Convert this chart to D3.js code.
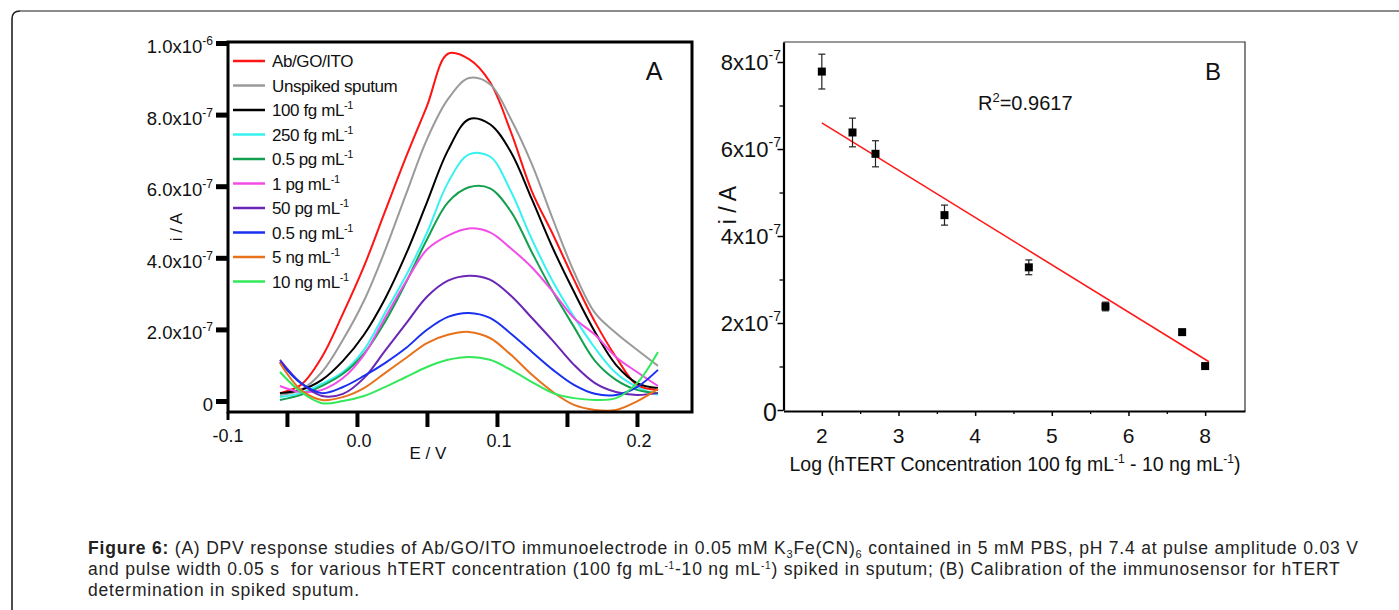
<!DOCTYPE html>
<html>
<head>
<meta charset="utf-8">
<script src="https://cdn.jsdelivr.net/npm/d3@7"></script>
<style>
  body { margin: 0; background: #fff; }
  svg { display: block; font-family: "Liberation Sans", Arial, sans-serif; }
</style>
</head>
<body>
<svg id="fig" width="1399" height="610"></svg>
<script>
// ---- panel A : DPV curves, current in units of 1e-7 A vs potential E (V)
var potential = [-0.055, -0.04, -0.025, -0.01, 0.005, 0.02, 0.035, 0.05, 0.065, 0.08,
                 0.095, 0.11, 0.125, 0.14, 0.155, 0.17, 0.185, 0.2, 0.215];
var abGoIto   = [0.22, 0.45, 1.23, 2.44, 3.76, 5.29, 6.81, 8.24, 9.70, 9.55, 8.91, 7.51, 5.85, 4.65, 3.39, 2.21, 1.23, 0.45, 0.31];
var unspiked  = [0.17, 0.31, 0.81, 1.71, 2.80, 4.20, 5.77, 7.31, 8.43, 9.02, 8.85, 7.87, 6.61, 5.07, 3.61, 2.46, 1.90, 1.43, 0.98];
var fg100     = [0.22, 0.31, 0.59, 1.12, 1.85, 2.85, 4.10, 5.55, 7.00, 7.87, 7.73, 6.95, 5.63, 4.26, 3.05, 1.93, 1.01, 0.50, 0.36];
var fg250     = [0.11, 0.22, 0.48, 0.81, 1.43, 2.46, 3.50, 4.70, 6.10, 6.89, 6.83, 5.85, 4.51, 3.33, 2.35, 1.48, 0.78, 0.39, 0.17];
var pg05      = [0.03, 0.17, 0.42, 0.76, 1.32, 2.21, 3.31, 4.51, 5.55, 5.97, 5.94, 5.29, 4.15, 3.05, 2.07, 1.12, 0.59, 0.31, 0.22];
var pg1       = [0.42, 0.25, 0.31, 0.64, 1.29, 2.32, 3.33, 4.23, 4.62, 4.82, 4.71, 4.26, 3.73, 3.05, 2.32, 1.85, 1.23, 0.81, 0.42];
var pg50      = [1.15, 0.50, 0.14, 0.20, 0.64, 1.40, 2.16, 2.91, 3.36, 3.50, 3.39, 2.94, 2.32, 1.68, 1.01, 0.50, 0.25, 0.17, 0.22];
var ng05      = [1.09, 0.50, 0.22, 0.39, 0.70, 1.06, 1.48, 1.99, 2.35, 2.46, 2.32, 1.88, 1.37, 0.87, 0.45, 0.20, 0.17, 0.39, 0.87];
var ng5       = [1.06, 0.31, 0.03, 0.11, 0.36, 0.78, 1.20, 1.62, 1.85, 1.93, 1.76, 1.29, 0.73, 0.25, -0.11, -0.25, -0.25, -0.01, 0.34];
var ng10      = [0.81, 0.25, -0.06, 0.00, 0.14, 0.39, 0.67, 0.95, 1.15, 1.23, 1.15, 0.87, 0.53, 0.22, 0.08, 0.03, 0.08, 0.50, 1.37];

var seriesA   = [abGoIto, unspiked, fg100, fg250, pg05, pg1, pg50, ng05, ng5, ng10];
var legendA   = ["Ab/GO/ITO", "Unspiked sputum", "100 fg mL", "250 fg mL", "0.5 pg mL", "1 pg mL",
                 "50 pg mL", "0.5 ng mL", "5 ng mL", "10 ng mL"];
var legendSup = ["", "", "-1", "-1", "-1", "-1", "-1", "-1", "-1", "-1"];
var colorsA   = ["#ff1414", "#9a9a9a", "#000000", "#38f2f2", "#12a04e", "#f24ce6",
                 "#6a26b4", "#1a30f0", "#e8721c", "#33e85a"];

var yTicksA    = [0, 2, 4, 6, 8, 10];
var yTickMantA = ["0", "2.0x10", "4.0x10", "6.0x10", "8.0x10", "1.0x10"];
var yTickExpA  = ["", "-7", "-7", "-7", "-7", "-6"];
var xTicksA    = [-0.05, 0, 0.05, 0.1, 0.15, 0.2];
var xLabelValA = [0, 0.1, 0.2];
var xLabelA    = ["0.0", "0.1", "0.2"];

// ---- panel B : calibration, current in units of 1e-7 A vs log concentration
var logConc   = [2.0, 2.4, 2.7, 3.6, 4.7, 5.7, 6.7, 7.0];
var currentB  = [7.78, 6.38, 5.89, 4.48, 3.28, 2.38, 1.79, 1.01];
var errorB    = [0.40, 0.33, 0.30, 0.23, 0.17, 0.10, 0.00, 0.03];
var fitX      = [2.0, 7.05];
var fitY      = [6.60, 1.11];
var yTicksB   = [0, 2, 4, 6, 8];
var yMinorB   = [1, 3, 5, 7];
var yTickMantB = ["0", "2x10", "4x10", "6x10", "8x10"];
var xTicksB   = [2, 3, 4, 5, 6, 7];
var xMinorB   = [2.5, 3.5, 4.5, 5.5, 6.5];
var xTickLabelB = ["2", "3", "4", "5", "6", "8"];

var svg = d3.select("#fig");

// outer rounded box of the figure
svg.append("path").attr("d", "M12,610 V19 Q12,11 20,11")
  .attr("fill", "none").attr("stroke", "#222").attr("stroke-width", 1.6);
svg.append("path").attr("d", "M20,11 H1399")
  .attr("fill", "none").attr("stroke", "#8c8c8c").attr("stroke-width", 2);

// ================= panel A =================
var xA = d3.scaleLinear().domain([-0.0921, 0.2393]).range([228, 692]);
var yA = d3.scaleLinear().domain([0, 10]).range([401, 43]);

var gA = svg.append("g");

var line = d3.line()
  .x(function(d, i) { return xA(potential[i]); })
  .y(function(d) { return yA(d); })
  .curve(d3.curveCatmullRom.alpha(0.5));

seriesA.forEach(function(s, i) {
  gA.append("path")
    .attr("d", line(s))
    .attr("fill", "none")
    .attr("stroke", colorsA[i])
    .attr("stroke-width", 2);
});

// frame
gA.append("rect")
  .attr("x", 228).attr("y", 42).attr("width", 464).attr("height", 370)
  .attr("fill", "none").attr("stroke", "#000").attr("stroke-width", 3);

var yAxisA = gA.append("g").attr("transform", "translate(228,0)")
  .call(d3.axisLeft(yA).tickValues(yTicksA).tickSize(12).tickFormat(""));
yAxisA.select(".domain").remove();
yAxisA.selectAll("line").attr("stroke-width", 5);

var xAxisA = gA.append("g").attr("transform", "translate(0,413)")
  .call(d3.axisBottom(xA).tickValues(xTicksA).tickSize(14).tickFormat(""));
xAxisA.select(".domain").remove();
xAxisA.selectAll("line").attr("stroke-width", 4);
gA.append("line").attr("x1", 228).attr("x2", 228).attr("y1", 412).attr("y2", 420)
  .attr("stroke", "#000").attr("stroke-width", 3);

yTicksA.forEach(function(v, i) {
  var t = gA.append("text")
    .attr("x", 213).attr("y", yA(v) + 10)
    .attr("text-anchor", "end").attr("font-size", 18.5).attr("fill", "#111");
  t.append("tspan").text(yTickMantA[i]);
  if (yTickExpA[i]) t.append("tspan").attr("dy", -8).attr("font-size", 12).text(yTickExpA[i]);
});

gA.append("text").attr("x", xA(xA.domain()[0])).attr("y", 442)
  .attr("text-anchor", "middle").attr("font-size", 18).attr("fill", "#111").text("-0.1");
xLabelValA.forEach(function(v, i) {
  gA.append("text").attr("x", xA(v) + 2).attr("y", 447)
    .attr("text-anchor", "middle").attr("font-size", 18).attr("fill", "#111").text(xLabelA[i]);
});

gA.append("text").attr("x", 428).attr("y", 459).attr("text-anchor", "middle")
  .attr("font-size", 17).attr("fill", "#111").text("E / V");
gA.append("text").attr("transform", "translate(182,227) rotate(-90)")
  .attr("text-anchor", "middle").attr("font-size", 17).attr("fill", "#111").text("i / A");
gA.append("text").attr("x", 654).attr("y", 80).attr("text-anchor", "middle")
  .attr("font-size", 25).attr("fill", "#111").text("A");

// legend
legendA.forEach(function(name, i) {
  var yy = 61 + i * 24.5;
  gA.append("line").attr("x1", 233).attr("x2", 265).attr("y1", yy).attr("y2", yy)
    .attr("stroke", colorsA[i]).attr("stroke-width", 2.5);
  var t = gA.append("text").attr("x", 272).attr("y", yy + 6)
    .attr("font-size", 17).attr("letter-spacing", -0.4).attr("fill", "#111");
  t.append("tspan").text(name);
  if (legendSup[i]) t.append("tspan").attr("dy", -7).attr("font-size", 11).text(legendSup[i]);
});

// ================= panel B =================
var xB = d3.scaleLinear().domain([1.5, 7.52]).range([783.5, 1245]);
var yB = d3.scaleLinear().domain([0, 8.46]).range([410, 42]);
var gB = svg.append("g");

// thin top/right frame
gB.append("path").attr("d", "M783.5,42 H1245 V411")
  .attr("fill", "none").attr("stroke", "#333").attr("stroke-width", 1.2);

var yAxisB = gB.append("g").attr("transform", "translate(783.5,0)")
  .call(d3.axisLeft(yB).tickValues(yTicksB).tickSize(6).tickFormat("").tickSizeOuter(0));
yAxisB.selectAll("line").attr("stroke-width", 1.5);
yAxisB.select(".domain").attr("stroke-width", 2.2);
gB.append("g").attr("transform", "translate(783.5,0)")
  .call(d3.axisLeft(yB).tickValues(yMinorB).tickSize(4).tickFormat(""))
  .call(function(g) { g.select(".domain").remove(); })
  .selectAll("line").attr("stroke-width", 1.3);

var xAxisB = gB.append("g").attr("transform", "translate(0,411)")
  .call(d3.axisBottom(xB).tickValues(xTicksB).tickSize(5).tickFormat("").tickSizeOuter(0));
xAxisB.selectAll("line").attr("stroke-width", 1.5);
xAxisB.select(".domain").attr("stroke-width", 2.2);
gB.append("g").attr("transform", "translate(0,411)")
  .call(d3.axisBottom(xB).tickValues(xMinorB).tickSize(3).tickFormat(""))
  .call(function(g) { g.select(".domain").remove(); })
  .selectAll("line").attr("stroke-width", 1.3);

yTicksB.forEach(function(v, i) {
  var t = gB.append("text").attr("text-anchor", "end").attr("fill", "#111");
  if (v === 0) {
    t.attr("x", 777).attr("y", yB(v) + 11).attr("font-size", 25).text(yTickMantB[i]);
  } else {
    t.attr("x", 781).attr("y", yB(v) + 8).attr("font-size", 22);
    t.append("tspan").text(yTickMantB[i]);
    t.append("tspan").attr("dy", -10).attr("font-size", 14).text("-7");
  }
});
xTicksB.forEach(function(v, i) {
  gB.append("text").attr("x", xB(v)).attr("y", 443).attr("text-anchor", "middle")
    .attr("font-size", 21).attr("fill", "#111").text(xTickLabelB[i]);
});

var xt = gB.append("text").attr("x", 1015).attr("y", 471).attr("text-anchor", "middle")
  .attr("font-size", 19.5).attr("fill", "#111");
xt.append("tspan").text("Log (hTERT Concentration 100 fg mL");
xt.append("tspan").attr("dy", -8).attr("font-size", 12).text("-1");
xt.append("tspan").attr("dy", 8).text(" - 10 ng mL");
xt.append("tspan").attr("dy", -8).attr("font-size", 12).text("-1");
xt.append("tspan").attr("dy", 8).text(")");

gB.append("text").attr("transform", "translate(736,205) rotate(-90)")
  .attr("text-anchor", "middle").attr("font-size", 23).attr("fill", "#111").text("i / A");
gB.append("text").attr("x", 1213).attr("y", 80).attr("text-anchor", "middle")
  .attr("font-size", 24).attr("fill", "#111").text("B");

var r2 = gB.append("text").attr("x", 978).attr("y", 110).attr("font-size", 20).attr("fill", "#111");
r2.append("tspan").text("R");
r2.append("tspan").attr("dy", -8).attr("font-size", 13).text("2");
r2.append("tspan").attr("dy", 8).text("=0.9617");

// regression line
gB.append("path")
  .attr("d", d3.line().x(function(d) { return xB(d[0]); }).y(function(d) { return yB(d[1]); })(d3.zip(fitX, fitY)))
  .attr("stroke", "#ff1a1a").attr("stroke-width", 1.6).attr("fill", "none");

// error bars and points
var pts = d3.zip(logConc, currentB, errorB);
pts.forEach(function(p) {
  if (p[2] <= 0) return;
  var cx = xB(p[0]);
  gB.append("line").attr("x1", cx).attr("x2", cx).attr("y1", yB(p[1] + p[2])).attr("y2", yB(p[1] - p[2]))
    .attr("stroke", "#222").attr("stroke-width", 1.2);
  [p[1] + p[2], p[1] - p[2]].forEach(function(v) {
    gB.append("line").attr("x1", cx - 3.5).attr("x2", cx + 3.5).attr("y1", yB(v)).attr("y2", yB(v))
      .attr("stroke", "#222").attr("stroke-width", 1.2);
  });
});
gB.selectAll("rect.pt").data(pts).enter().append("rect").attr("class", "pt")
  .attr("x", function(d) { return xB(d[0]) - 4; })
  .attr("y", function(d) { return yB(d[1]) - 4; })
  .attr("width", 8).attr("height", 8).attr("fill", "#000");

// ================= caption =================
var cap = svg.append("g").attr("font-size", 17.5).attr("letter-spacing", 0.8).attr("fill", "#222");
var l1 = cap.append("text").attr("x", 88).attr("y", 554);
l1.append("tspan").attr("font-weight", "bold").text("Figure 6:");
l1.append("tspan").text(" (A) DPV response studies of Ab/GO/ITO immunoelectrode in 0.05 mM K");
l1.append("tspan").attr("dy", 4).attr("font-size", 11).text("3");
l1.append("tspan").attr("dy", -4).text("Fe(CN)");
l1.append("tspan").attr("dy", 4).attr("font-size", 11).text("6");
l1.append("tspan").attr("dy", -4).text(" contained in 5 mM PBS, pH 7.4 at pulse amplitude 0.03 V");
var l2 = cap.append("text").attr("x", 88).attr("y", 575).attr("xml:space", "preserve");
l2.append("tspan").text("and pulse width 0.05 s  for various hTERT concentration (100 fg mL");
l2.append("tspan").attr("dy", -6).attr("font-size", 10).text("-1");
l2.append("tspan").attr("dy", 6).text("-10 ng mL");
l2.append("tspan").attr("dy", -6).attr("font-size", 10).text("-1");
l2.append("tspan").attr("dy", 6).text(") spiked in sputum; (B) Calibration of the immunosensor for hTERT");
cap.append("text").attr("x", 88).attr("y", 596).text("determination in spiked sputum.");
</script>
</body>
</html>
